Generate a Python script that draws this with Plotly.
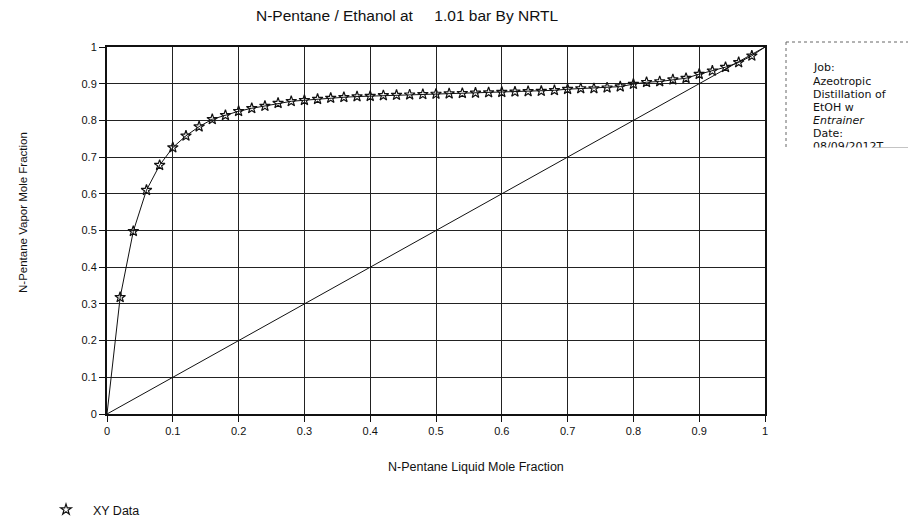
import plotly.graph_objects as go

# ---- data ----
x_liq = [0.02, 0.04, 0.06, 0.08, 0.10, 0.12, 0.14, 0.16, 0.18, 0.20,
         0.22, 0.24, 0.26, 0.28, 0.30, 0.32, 0.34, 0.36, 0.38, 0.40,
         0.42, 0.44, 0.46, 0.48, 0.50, 0.52, 0.54, 0.56, 0.58, 0.60,
         0.62, 0.64, 0.66, 0.68, 0.70, 0.72, 0.74, 0.76, 0.78, 0.80,
         0.82, 0.84, 0.86, 0.88, 0.90, 0.92, 0.94, 0.96, 0.98]
y_vap = [0.318, 0.498, 0.610, 0.678, 0.726, 0.758, 0.783, 0.803, 0.814, 0.825,
         0.833, 0.839, 0.847, 0.852, 0.855, 0.858, 0.861, 0.863, 0.865, 0.866,
         0.868, 0.869, 0.870, 0.871, 0.872, 0.873, 0.874, 0.875, 0.876, 0.877,
         0.878, 0.879, 0.880, 0.882, 0.885, 0.887, 0.887, 0.889, 0.892, 0.899,
         0.904, 0.906, 0.911, 0.915, 0.926, 0.935, 0.945, 0.958, 0.976]
curve_start = [0.0]
curve_end = [1.0]
diag_x = [0.0, 1.0]
diag_y = [0.0, 1.0]
tick_vals = [0, 0.1, 0.2, 0.3, 0.4, 0.5, 0.6, 0.7, 0.8, 0.9, 1]
tick_text = ["0", "0.1", "0.2", "0.3", "0.4", "0.5", "0.6", "0.7", "0.8", "0.9", "1"]
info_lines = ["Job:", "Azeotropic", "Distillation of", "EtOH w", "<i>Entrainer</i>",
              "Date:", "08/09/2012T"]

FONT = "Liberation Sans, Arial, sans-serif"
BOXFONT = "DejaVu Sans, Verdana, sans-serif"
INK = "#111111"

# page body has an 8px margin; plot area wanted at screen x 107..765, y 47..414
W, H = 908, 511
PX0, PX1, PY0, PY1 = 107, 765, 47, 414


def px(sx):
    return (sx - PX0) / (PX1 - PX0)


def py(sy):
    return (PY1 - sy) / (PY1 - PY0)


fig = go.Figure()

fig.add_trace(go.Scatter(
    x=curve_start + x_liq + curve_end, y=curve_start + y_vap + curve_end,
    mode="lines", line=dict(color=INK, width=1), showlegend=False,
    hoverinfo="skip", cliponaxis=False))
fig.add_trace(go.Scatter(
    x=diag_x, y=diag_y, mode="lines", line=dict(color=INK, width=1),
    showlegend=False, hoverinfo="skip"))
fig.add_trace(go.Scatter(
    x=x_liq, y=y_vap, mode="markers", name="\u00a0\u00a0XY Data",
    marker=dict(symbol="star-open", size=8, color=INK, line=dict(width=1.2, color=INK)),
    cliponaxis=False))

axis_common = dict(
    range=[0, 1], tickvals=tick_vals, ticktext=tick_text,
    showgrid=True, gridcolor="#222222", gridwidth=1,
    zeroline=False, showline=True, linecolor=INK, linewidth=2, mirror=True,
    ticks="outside", ticklen=6, tickwidth=1, tickcolor=INK,
    tickfont=dict(family=FONT, size=11, color=INK),
)

fig.update_layout(
    width=W, height=H,
    margin=dict(l=PX0 - 8, r=W - (PX1 - 8), t=PY0 - 8, b=H - (PY1 - 8), autoexpand=False),
    paper_bgcolor="white", plot_bgcolor="white",
    font=dict(family=FONT, color=INK),
    xaxis=dict(axis_common),
    yaxis=dict(axis_common),
    showlegend=True,
    legend=dict(x=px(46), y=py(510), xanchor="left", yanchor="middle",
                font=dict(family=FONT, size=12.5, color=INK),
                bgcolor="rgba(0,0,0,0)"),
)

NB = "\u00a0"
annotations = [
    dict(text="N-Pentane / Ethanol at" + NB * 5 + "1.01 bar By NRTL",
         xref="paper", yref="paper", x=px(407), y=py(15),
         xanchor="center", yanchor="middle", showarrow=False,
         font=dict(family=FONT, size=15.5, color=INK)),
    dict(text="N-Pentane Vapor Mole Fraction", textangle=-90,
         xref="paper", yref="paper", x=px(23), y=py(213),
         xanchor="center", yanchor="middle", showarrow=False,
         font=dict(family=FONT, size=11.5, color=INK)),
    dict(text="N-Pentane Liquid Mole Fraction",
         xref="paper", yref="paper", x=px(476), y=py(467),
         xanchor="center", yanchor="middle", showarrow=False,
         font=dict(family=FONT, size=12.5, color=INK)),
]
for i, line in enumerate(info_lines):
    annotations.append(dict(
        text=line, xref="paper", yref="paper", x=px(811), y=py(68 + 13 * i),
        xanchor="left", yanchor="middle", align="left", showarrow=False,
        font=dict(family=BOXFONT, size=11, color=INK)))
# mask lower half of the clipped last line
annotations.append(dict(
    text=" ", xref="paper", yref="paper", x=px(792), y=py(147),
    xanchor="left", yanchor="top", showarrow=False, bgcolor="white",
    width=118, height=14, font=dict(size=8)))
fig.update_layout(annotations=annotations)

shapes = [
    dict(type="line", xref="paper", yref="paper",
         x0=px(786), x1=px(916), y0=py(42), y1=py(42),
         line=dict(color="#666666", width=1, dash="dot")),
    dict(type="line", xref="paper", yref="paper",
         x0=px(786), x1=px(786), y0=py(42), y1=py(148),
         line=dict(color="#666666", width=1, dash="dot")),
    dict(type="line", xref="paper", yref="paper",
         x0=px(872), x1=px(916), y0=py(148), y1=py(148),
         line=dict(color=INK, width=1)),
]
fig.update_layout(shapes=shapes)

fig.write_html("out.html")
